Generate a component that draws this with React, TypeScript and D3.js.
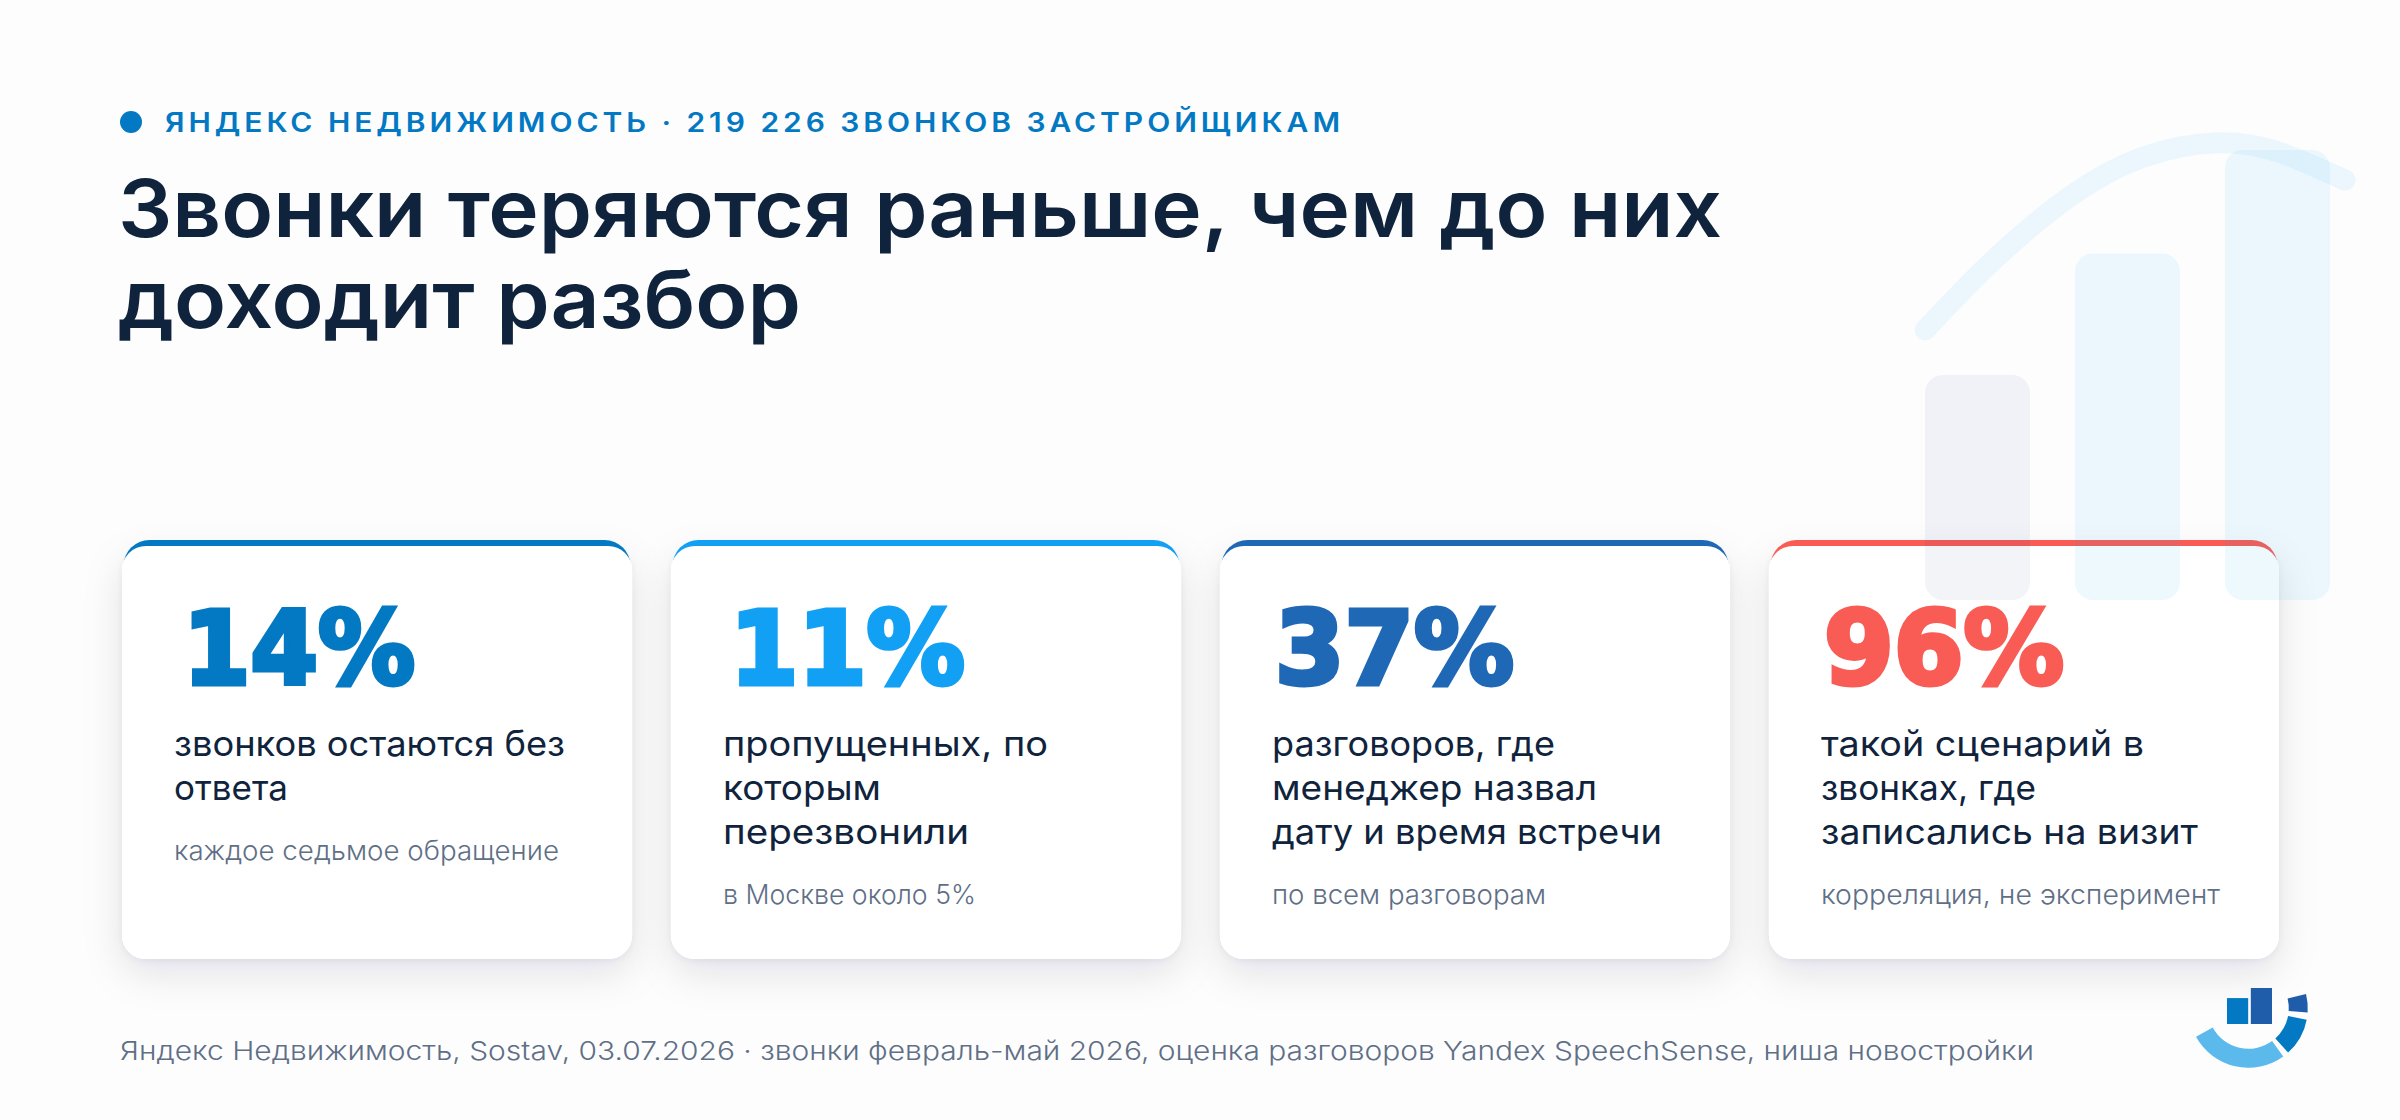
import * as d3 from "d3";
import React from "react";

const WIDTH = 2400;
const HEIGHT = 1120;

const eyebrow = "ЯНДЕКС НЕДВИЖИМОСТЬ · 219 226 ЗВОНКОВ ЗАСТРОЙЩИКАМ";
const titleLines = ["Звонки теряются раньше, чем до них", "доходит разбор"];
const source =
  "Яндекс Недвижимость, Sostav, 03.07.2026 · звонки февраль-май 2026, оценка разговоров Yandex SpeechSense, ниша новостройки";

const cardValues = [14, 11, 37, 96];
const cardColors = ["#0379c3", "#12a0f5", "#1f68b6", "#f85c55"];
const cardLabels = [
  ["звонков остаются без", "ответа"],
  ["пропущенных, по", "которым", "перезвонили"],
  ["разговоров, где", "менеджер назвал", "дату и время встречи"],
  ["такой сценарий в", "звонках, где", "записались на визит"],
];
const cardNotes = [
  "каждое седьмое обращение",
  "в Москве около 5%",
  "по всем разговорам",
  "корреляция, не эксперимент",
];

// faint growth picture behind the title
const decoBars = [50, 77, 100];
const decoLine = [
  { x: 0, y: 60 },
  { x: 15.7, y: 75 },
  { x: 34, y: 89.3 },
  { x: 52, y: 98.4 },
  { x: 69.5, y: 101.6 },
  { x: 84, y: 99.6 },
  { x: 100, y: 93.3 },
];

// logo gauge: start and end angle in degrees
const logoArcs = [
  { from: 144, to: 241.5, color: "#5bb9ec" },
  { from: 101, to: 138, color: "#0379c3" },
  { from: 76, to: 94, color: "#1f5dab" },
];
const logoBars = [
  { value: 72, color: "#0379c3" },
  { value: 100, color: "#1f5dab" },
];

// the installed sans is narrower than the one in the picture, so widths are fitted per line
const numberFit = [
  { shift: 9, width: 232 },
  { shift: 7, width: 235 },
  { shift: 3, width: 239 },
  { shift: 3, width: 240 },
];
const labelWidths = [
  [391, 114],
  [325, 158, 246],
  [283, 325, 390],
  [323, 215, 377],
];
const noteWidths = [385, 253, 274, 399];

const INK = "#10233d";
const MUTED = "#5f6f86";
const FONT = "Inter, 'Noto Sans', sans-serif";

const App = () => {
  const cardX = d3
    .scaleBand<number>()
    .domain(d3.range(cardValues.length))
    .range([122, 2279])
    .paddingInner(0.071);

  const decoX = d3
    .scaleBand<number>()
    .domain(d3.range(decoBars.length))
    .range([1925, 2330])
    .paddingInner(0.3);
  const decoY = d3.scaleLinear().domain([0, 100]).range([600, 150]);
  const decoLineX = d3.scaleLinear().domain([0, 100]).range([1925, 2345]);
  const decoPath = d3
    .line<{ x: number; y: number }>()
    .x((d) => decoLineX(d.x))
    .y((d) => decoY(d.y))
    .curve(d3.curveNatural);

  const logoArc = d3.arc<{ from: number; to: number }>()
    .innerRadius(40.5)
    .outerRadius(59.5)
    .startAngle((d) => (d.from * Math.PI) / 180)
    .endAngle((d) => (d.to * Math.PI) / 180);
  const logoX = d3
    .scaleBand<number>()
    .domain(d3.range(logoBars.length))
    .range([2227, 2272])
    .paddingInner(0.11);
  const logoY = d3.scaleLinear().domain([0, 100]).range([1024, 988]);

  return (
    <svg
      width={WIDTH}
      height={HEIGHT}
      style={{ position: "absolute", left: 0, top: 0 }}
      fontFamily={FONT}
    >
      <defs>
        <filter id="card-shadow" x="-20%" y="-20%" width="140%" height="150%">
          <feDropShadow dx="0" dy="2" stdDeviation="4" floodColor="#10233d" floodOpacity="0.06" result="tight" />
          <feDropShadow in="SourceGraphic" dx="0" dy="14" stdDeviation="19" floodColor="#10233d" floodOpacity="0.11" />
          <feMerge>
            <feMergeNode in="tight" />
            <feMergeNode />
          </feMerge>
        </filter>
      </defs>
      <rect width={WIDTH} height={HEIGHT} fill="#fdfdfe" />

      <circle cx={131} cy={122} r={11} fill="#0379c3" />
      <text
        x={165}
        y={132}
        fontSize={26.5}
        fontWeight={600}
        letterSpacing={3.5}
        fill="#0379c3"
        textLength={1179}
        lengthAdjust="spacingAndGlyphs"
      >
        {eyebrow}
      </text>

      {titleLines.map((line, i) => (
        <text
          key={line}
          x={118}
          y={237 + i * 91}
          fontSize={80}
          fontWeight={600}
          fill={INK}
          textLength={i === 0 ? 1604 : 683}
          lengthAdjust="spacingAndGlyphs"
        >
          {line}
        </text>
      ))}

      {cardValues.map((value, i) => {
        const x = cardX(i)!;
        const w = cardX.bandwidth();
        return (
          <g key={value}>
            <rect x={x} y={546} width={w} height={413} rx={24} fill="#ffffff" filter="url(#card-shadow)" />
            <rect x={x + 1.5} y={540} width={w - 3} height={60} rx={26} fill={cardColors[i]} />
            <rect x={x} y={546} width={w} height={413} rx={24} fill="#ffffff" />
          </g>
        );
      })}

      {decoBars.map((value, i) => (
        <rect
          key={i}
          x={decoX(i)}
          y={decoY(value)}
          width={decoX.bandwidth()}
          height={decoY(0) - decoY(value)}
          rx={18}
          fill={i === 0 ? "#1e4a8e" : "#0ea5f5"}
          opacity={i === 0 ? 0.06 : 0.07}
        />
      ))}
      <path
        d={decoPath(decoLine) ?? ""}
        fill="none"
        stroke="#0ea5f5"
        strokeOpacity={0.07}
        strokeWidth={21}
        strokeLinecap="round"
      />

      {cardValues.map((value, i) => {
        const x = cardX(i)! + 52;
        const labels = cardLabels[i];
        return (
          <g key={value}>
            <text
              x={x + numberFit[i].shift}
              y={684}
              fontSize={102}
              fontWeight={800}
              fontFamily="'DejaVu Sans'"
              fill={cardColors[i]}
              stroke={cardColors[i]}
              strokeWidth={5}
              strokeLinejoin="miter"
              textLength={numberFit[i].width}
              lengthAdjust="spacingAndGlyphs"
            >
              {`${value}%`}
            </text>
            {labels.map((line, j) => (
              <text
                key={line}
                x={x}
                y={756 + j * 44}
                fontSize={35}
                fontWeight={400}
                fill={INK}
                textLength={labelWidths[i][j]}
                lengthAdjust="spacingAndGlyphs"
              >
                {line}
              </text>
            ))}
            <text
              x={x}
              y={labels.length === 2 ? 860 : 904}
              fontSize={27}
              fontWeight={350}
              fill={MUTED}
              textLength={noteWidths[i]}
              lengthAdjust="spacingAndGlyphs"
            >
              {cardNotes[i]}
            </text>
          </g>
        );
      })}

      <text x={120} y={1060} fontSize={26} fontWeight={350} fill={MUTED} textLength={1914} lengthAdjust="spacingAndGlyphs">
        {source}
      </text>

      <g transform="translate(2248.3,1008.3)">
        {logoArcs.map((d) => (
          <path key={d.from} d={logoArc(d) ?? ""} fill={d.color} />
        ))}
      </g>
      {logoBars.map((d, i) => (
        <rect
          key={i}
          x={logoX(i)}
          y={logoY(d.value)}
          width={logoX.bandwidth()}
          height={logoY(0) - logoY(d.value)}
          fill={d.color}
        />
      ))}
    </svg>
  );
};

export default App;
